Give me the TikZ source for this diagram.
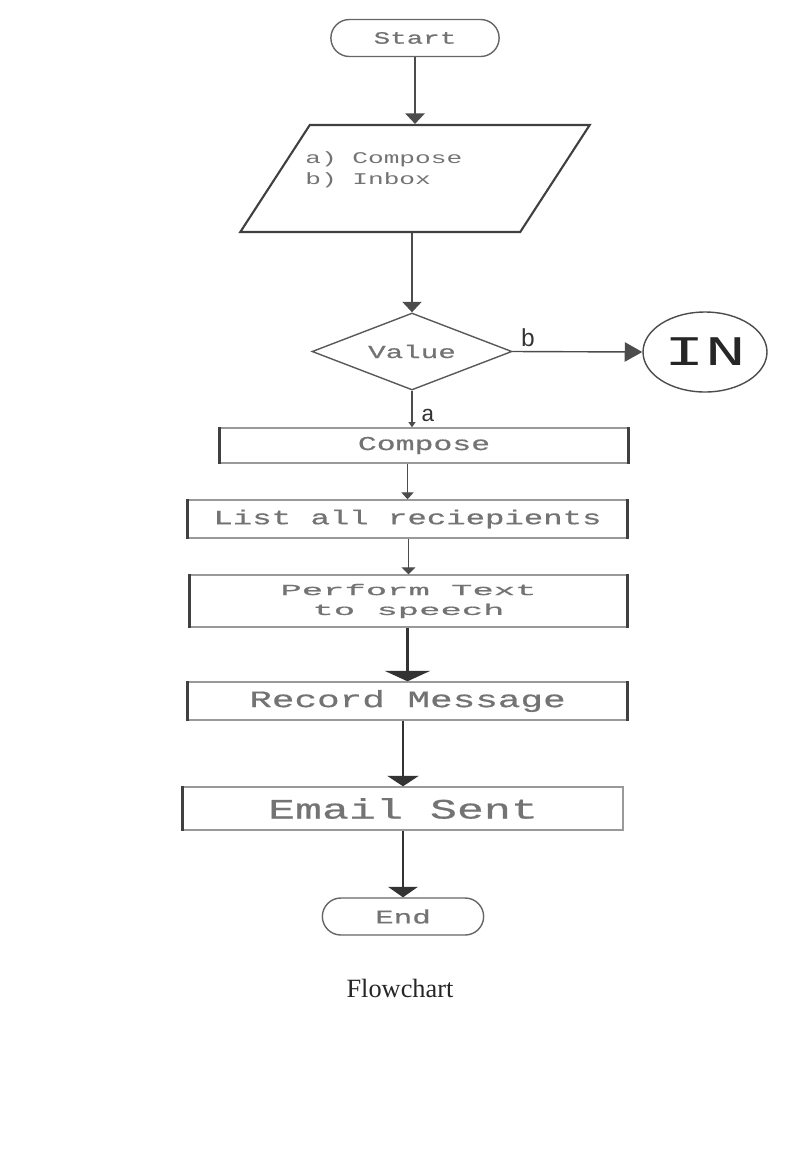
\documentclass[tikz,border=0pt]{standalone}
\usepackage{fontspec}
\setmainfont{Liberation Serif}
\newfontfamily\flowfont[FakeStretch=1.6,FakeBold=0.7]{Liberation Mono}
\newfontfamily\wideflowfont[FakeStretch=2.3,FakeBold=0.7]{Liberation Mono}
\newfontfamily\thinflowfont[FakeStretch=1.6]{Liberation Mono}
\newfontfamily\labelfont{Liberation Mono}
\usetikzlibrary{shapes.geometric,shapes.misc,arrows.meta}
\tikzstyle{terminal}=[rounded rectangle, draw=black!60, thick, text=black!55, minimum height=0.74cm]
\tikzstyle{process}=[rectangle, draw=black!40, thick, text=black!55, inner sep=0pt]
\tikzstyle{bar}=[line width=2pt, black!75]
\tikzstyle{flow}=[draw=black!70, thick]
\newcommand{\fsz}[1]{\fontsize{#1}{1.25\dimexpr#1pt\relax}\flowfont}

\begin{document}
\begin{tikzpicture}[x=0.02cm,y=-0.02cm]
	\useasboundingbox (0,0) rectangle (795,1160);
	% terminals and input
	\node[terminal, minimum width=3.6cm] (start) at (415,38) {\fsz{9.8}Start};
	\node[trapezium, trapezium left angle=57, trapezium right angle=123, draw=black!75, line width=1.2pt, inner sep=0pt] (menu) at (415,178.5) {\phantom{\rule{4.21cm}{2.14cm}}};
	\node[anchor=west, align=left, text=black!55, inner sep=0pt, font=\fontsize{9.3}{12}\thinflowfont] (menutxt) at (305,170) {a) Compose\\b) Inbox};
	\node[diamond, draw=black!65, thick, minimum width=4cm, minimum height=1.54cm, aspect=2.6, inner sep=0pt, text=black!55] (val) at (412,351.5) {\fsz{10.4}Value};
	\node[ellipse, draw=black!70, thick, minimum width=2.48cm, minimum height=1.6cm, inner sep=0pt, text=black!85] (in) at (705,352) {\fontsize{24}{28}\thinflowfont IN};
	% processes
	\node[process, minimum width=8.16cm, minimum height=0.7cm] (cmp) at (424,445.5) {\fsz{11.2}Compose};
	\node[process, minimum width=8.78cm, minimum height=0.76cm] (lst) at (407.5,519) {\fsz{11.5}List all reciepients};
	\node[process, minimum width=8.74cm, minimum height=1.04cm, align=center, font=\fontsize{8.8}{11.3}\wideflowfont] (tts) at (408.5,601) {Perform Text\\to speech};
	\node[process, minimum width=8.78cm, minimum height=0.76cm] (rec) at (407.5,701) {\fsz{13.4}Record Message};
	\node[process, minimum width=8.8cm, minimum height=0.86cm] (sent) at (403,808.5) {\fsz{16}Email Sent};
	\node[terminal, minimum width=3.46cm] (end) at (403,916.5) {\fsz{11}End};
	\foreach \n in {cmp,lst,tts,rec}{
		\draw[bar] (\n.north west) -- (\n.south west);
		\draw[bar] (\n.north east) -- (\n.south east);
	}
	\draw[bar] (sent.north west) -- (sent.south west);
	% connectors
	\draw[flow,-{Triangle[width=11pt,length=6pt]}] (start.south -| menu.north) -- (menu.north);
	\draw[flow,-{Triangle[width=11pt,length=6pt]}] (menu.south -| val.north) -- (val.north);
	\draw[flow,-{Triangle[width=11pt,length=10pt]}] (val.east) -- (in.west);
	\draw[flow,-{Triangle[width=4pt,length=3pt]}] (val.south) -- (val.south |- cmp.north);
	\draw[flow,-{Triangle[width=7pt,length=4pt]}] (lst.north |- cmp.south) -- (lst.north);
	\draw[flow,-{Triangle[width=8pt,length=4pt]}] (tts.north |- lst.south) -- (tts.north);
	\draw[draw=black!80, line width=1.3pt,-{Triangle[width=26pt,length=6pt]}] (rec.north |- tts.south) -- (rec.north);
	\draw[draw=black!80, thick,-{Triangle[width=18pt,length=6pt]}] (sent.north |- rec.south) -- (sent.north);
	\draw[draw=black!80, thick,-{Triangle[width=17pt,length=6pt]}] (sent.south -| end.north) -- (end.north);
	% branch labels
	\node[text=black!80, inner sep=0pt] (lblb) at (528,338) {\fontsize{14}{16}\labelfont b};
	\node[text=black!80, inner sep=0pt] (lbla) at (428,415) {\fontsize{13}{15}\labelfont a};
	\node[text=black!85] (caption) at (400,988) {\fontsize{15}{18}\selectfont Flowchart};
\end{tikzpicture}
\end{document}
